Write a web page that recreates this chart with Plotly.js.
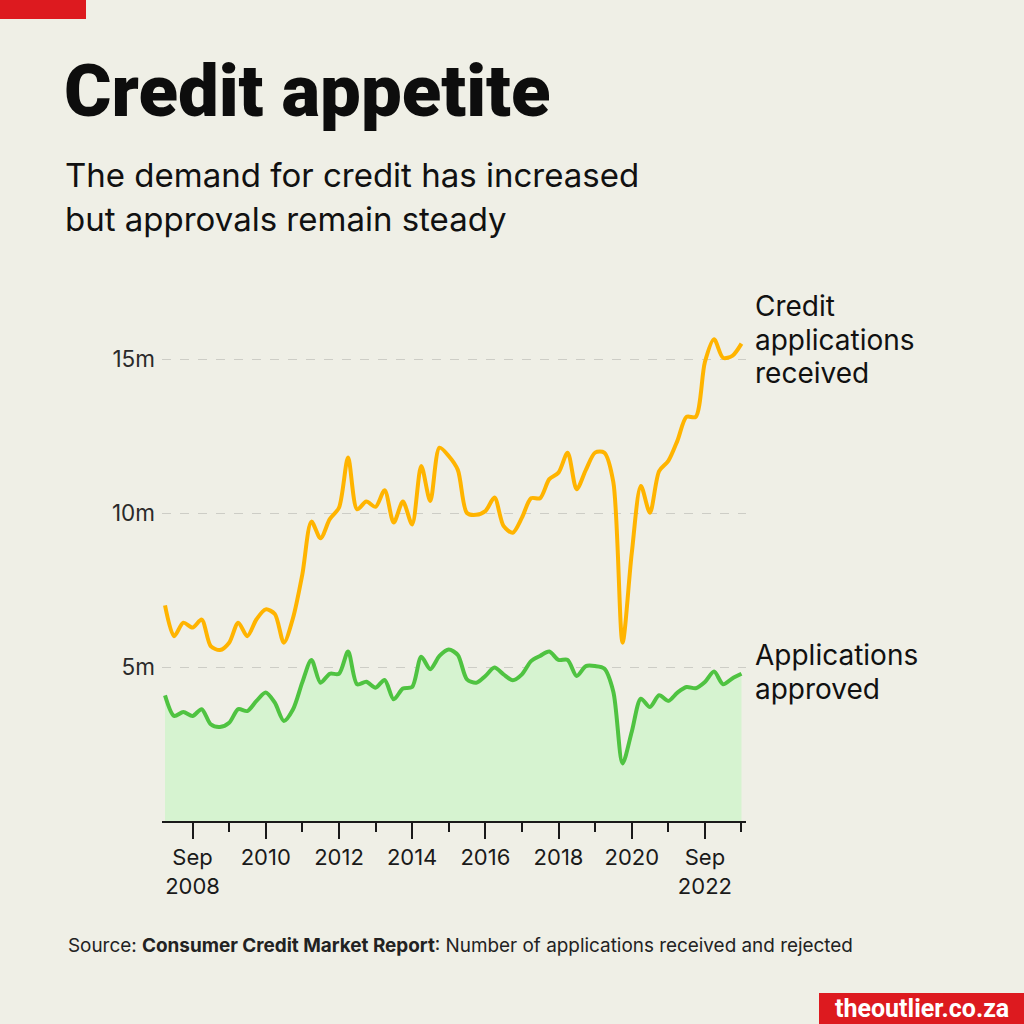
<!DOCTYPE html>
<html>
<head>
<meta charset="utf-8">
<script src="https://cdn.plot.ly/plotly-3.0.1.min.js"></script>
<style>
  html, body { margin: 0; padding: 0; background: #efefe6; }
  #chart { width: 1024px; height: 1024px; }
</style>
</head>
<body>
<div id="chart"></div>
<script>
// Quarterly periods (Dec 2007 – Sep 2023)
const quarters = [
  '2007-12-01',
  '2008-03-01','2008-06-01','2008-09-01','2008-12-01',
  '2009-03-01','2009-06-01','2009-09-01','2009-12-01',
  '2010-03-01','2010-06-01','2010-09-01','2010-12-01',
  '2011-03-01','2011-06-01','2011-09-01','2011-12-01',
  '2012-03-01','2012-06-01','2012-09-01','2012-12-01',
  '2013-03-01','2013-06-01','2013-09-01','2013-12-01',
  '2014-03-01','2014-06-01','2014-09-01','2014-12-01',
  '2015-03-01','2015-06-01','2015-09-01','2015-12-01',
  '2016-03-01','2016-06-01','2016-09-01','2016-12-01',
  '2017-03-01','2017-06-01','2017-09-01','2017-12-01',
  '2018-03-01','2018-06-01','2018-09-01','2018-12-01',
  '2019-03-01','2019-06-01','2019-09-01','2019-12-01',
  '2020-03-01','2020-06-01','2020-09-01','2020-12-01',
  '2021-03-01','2021-06-01','2021-09-01','2021-12-01',
  '2022-03-01','2022-06-01','2022-09-01','2022-12-01',
  '2023-03-01','2023-06-01','2023-09-01'
];

// Credit applications received (millions)
const received = [
  7.0,
  6.0, 6.44, 6.28, 6.54,
  5.68, 5.55, 5.79, 6.44,
  6.0, 6.55, 6.87, 6.72,
  5.79, 6.6, 8.0, 9.72,
  9.18, 9.8, 10.17, 11.8,
  10.12, 10.37, 10.2, 10.74,
  9.69, 10.37, 9.63, 11.53,
  10.39, 12.12, 11.85, 11.4,
  10.0, 9.94, 10.06, 10.5,
  9.58, 9.36, 9.85, 10.48,
  10.48, 11.1, 11.31, 11.96,
  10.77, 11.4, 11.96, 11.96,
  11.0, 5.79, 8.7, 10.88,
  10.01, 11.36, 11.69, 12.35,
  13.12, 13.12, 14.9, 15.64,
  15.04, 15.1, 15.5
];

// Applications approved (millions)
const approved = [
  4.08,
  3.41, 3.54, 3.41, 3.63,
  3.14, 3.05, 3.19, 3.63,
  3.57, 3.9, 4.17, 3.84,
  3.25, 3.63, 4.5, 5.23,
  4.49, 4.78, 4.78, 5.5,
  4.44, 4.52, 4.33, 4.58,
  3.95, 4.3, 4.35, 5.33,
  4.93, 5.36, 5.57, 5.39,
  4.6, 4.49, 4.71, 4.98,
  4.76, 4.57, 4.76, 5.19,
  5.36, 5.5, 5.23, 5.23,
  4.71, 5.03, 5.03, 4.95,
  4.2, 1.87, 2.9, 3.97,
  3.7, 4.08, 3.9, 4.17,
  4.35, 4.31, 4.51, 4.85,
  4.44, 4.63, 4.78
];

// Axis ticks
const xTickVals = ['2008-09-01','2010-09-01','2012-09-01','2014-09-01','2016-09-01','2018-09-01','2020-09-01','2022-09-01'];
const xTickText = ['Sep<br>2008','2010','2012','2014','2016','2018','2020','Sep<br>2022'];
const xMinorVals = ['2009-09-01','2011-09-01','2013-09-01','2015-09-01','2017-09-01','2019-09-01','2021-09-01','2023-09-01'];
const yTickVals = [5, 10, 15];
const yTickText = ['5m', '10m', '15m'];

// Text
const titleText = 'Credit appetite';
const subtitleLines = ['The demand for credit has increased', 'but approvals remain steady'];
const receivedLabel = ['Credit', 'applications', 'received'];
const approvedLabel = ['Applications', 'approved'];
const sourceText = 'Source: <b>Consumer Credit Market Report</b>: Number of applications received and rejected';
const brandText = 'theoutlier.co.za';

// Layout geometry (pixels)
const L = 162, R = 746, T = 290, B = 821;
const W = R - L, H = B - T;
const px = x => (x - L) / W;
const py = y => (B - y) / H;

const BG = '#efefe6';
const ORANGE = '#ffb400';
const GREEN = '#4fc341';
const FILL = '#d6f3d0';
const INK = '#1a1a1a';
const RED = '#dd1a1f';

const traces = [
  {
    x: quarters, y: approved, type: 'scatter', mode: 'lines',
    line: { color: GREEN, width: 4, shape: 'spline', smoothing: 0.8 },
    fill: 'tozeroy', fillcolor: FILL, hoverinfo: 'skip', showlegend: false
  },
  {
    x: quarters, y: received, type: 'scatter', mode: 'lines',
    line: { color: ORANGE, width: 4, shape: 'spline', smoothing: 0.8 },
    hoverinfo: 'skip', showlegend: false
  }
];

function label(text, x, y, size, extra) {
  return Object.assign({
    xref: 'paper', yref: 'paper', x: px(x), y: py(y), xanchor: 'left', yanchor: 'middle',
    showarrow: false, text: text,
    font: { family: 'Inter, sans-serif', size: size, color: '#111' }
  }, extra || {});
}

const annotations = [
  label(titleText, 62, 91, 72.5, { font: { family: 'Roboto, sans-serif', size: 72.5, weight: 900, color: '#0d0d0d' } }),
  label(subtitleLines[0], 63, 175, 33),
  label(subtitleLines[1], 63, 219, 33),
  label(receivedLabel[0], 753, 306, 28),
  label(receivedLabel[1], 753, 340, 28),
  label(receivedLabel[2], 753, 373, 28),
  label(approvedLabel[0], 753, 655, 28),
  label(approvedLabel[1], 753, 689, 28),
  label(sourceText, 66, 945, 18.9, { font: { family: 'Inter, sans-serif', size: 18.9, color: '#222' } }),
  label('<b>' + brandText + '</b>', 922, 1008, 25, { xanchor: 'center', font: { family: 'Roboto, sans-serif', size: 25, color: '#ffffff' } })
];

const layout = {
  width: 1024, height: 1024,
  paper_bgcolor: BG, plot_bgcolor: BG,
  margin: { l: L, r: 1024 - R, t: T, b: 1024 - B, pad: 0 },
  font: { family: 'Inter, "Noto Sans", sans-serif', color: INK },
  showlegend: false,
  xaxis: {
    type: 'date',
    range: ['2007-11-01', '2023-10-16'],
    tickmode: 'array', tickvals: xTickVals, ticktext: xTickText,
    ticks: 'outside', ticklen: 16, tickwidth: 2, tickcolor: INK,
    showline: true, linecolor: INK, linewidth: 2,
    showgrid: false, zeroline: false,
    tickfont: { family: 'Inter, sans-serif', size: 22, color: INK },
    minor: { tickmode: 'array', tickvals: xMinorVals, ticks: 'outside', ticklen: 9, tickwidth: 2, tickcolor: INK, showgrid: false },
    fixedrange: true
  },
  yaxis: {
    range: [0, H / 30.8],
    tickmode: 'array', tickvals: yTickVals, ticktext: yTickText,
    ticks: '', showline: false, zeroline: false,
    showgrid: true, gridcolor: '#cdcdc6', gridwidth: 1, griddash: 'dash',
    tickfont: { family: 'Inter, sans-serif', size: 22.5, color: '#2a2a2a' },
    ticklabelstandoff: 6,
    fixedrange: true
  },
  shapes: [
    { type: 'rect', xref: 'paper', yref: 'paper', x0: px(0), x1: px(86), y0: py(19), y1: py(-2), fillcolor: RED, line: { width: 0 }, layer: 'above' },
    { type: 'rect', xref: 'paper', yref: 'paper', x0: px(819), x1: px(1026), y0: py(1026), y1: py(993), fillcolor: RED, line: { width: 0 }, layer: 'above' }
  ],
  annotations: annotations
};

Plotly.newPlot('chart', traces, layout, { staticPlot: true, displayModeBar: false });
</script>
</body>
</html>
